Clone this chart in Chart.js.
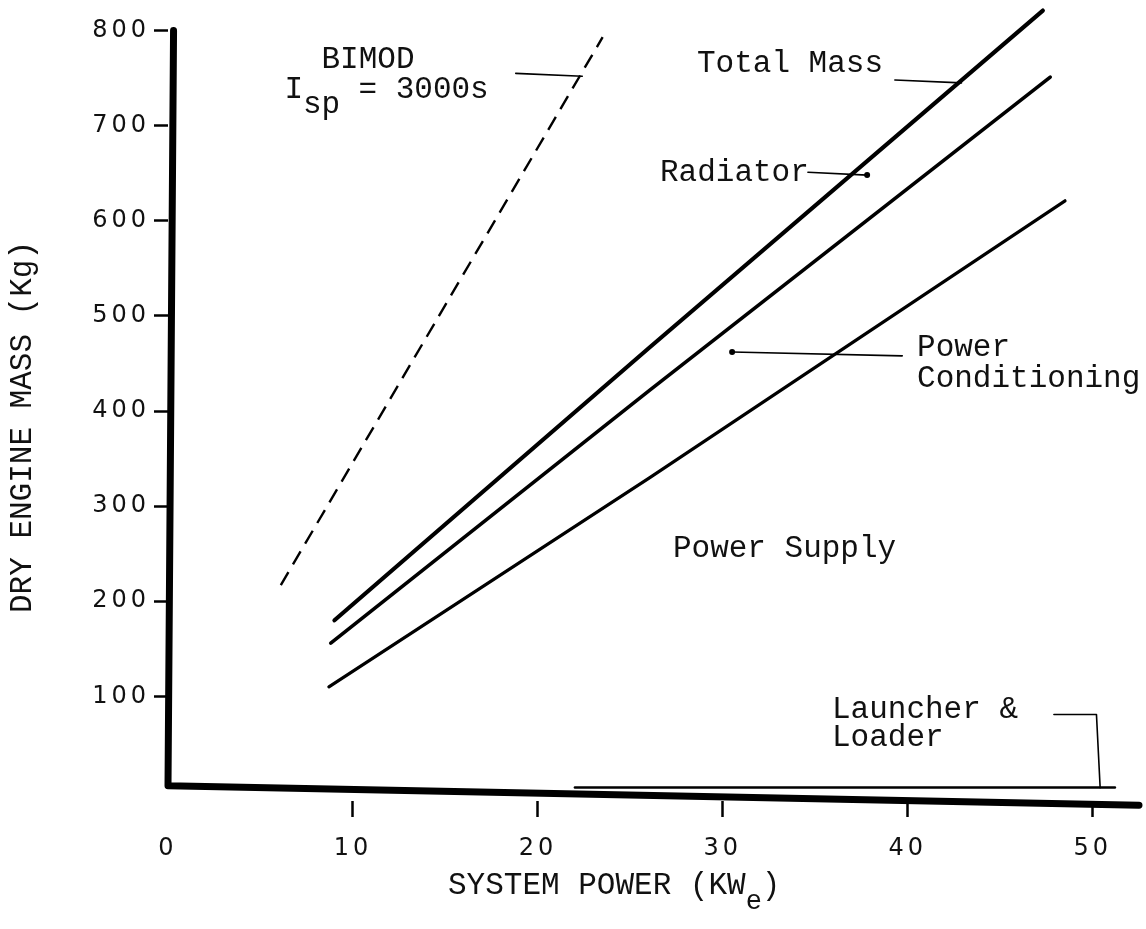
<!DOCTYPE html>
<html>
<head>
<meta charset="utf-8">
<script src="https://cdn.jsdelivr.net/npm/chart.js@4"></script>
<style>
html,body{margin:0;padding:0;background:#fff;}
#wrap{width:1146px;height:929px;}
</style>
</head>
<body>
<div id="wrap"><canvas id="c" width="1146" height="929"></canvas></div>
<script>
// values (system power kWe, dry engine mass kg)
var bimodPower = [6.1, 23.5];
var bimodMass = [217, 793];
var totalPower = [9.0, 26.05, 47.3];
var totalMass = [180, 467, 821];
var radiatorPower = [8.8, 26.05, 47.7];
var radiatorMass = [156, 422, 751];
var condPower = [8.7, 26.05, 48.5];
var condMass = [110, 330, 621];
var launcherPower = [22, 51.2];
var launcherMass = [4.2, 4.2];

var xTickValues = [0, 10, 20, 30, 40, 50];
var yTickValues = [100, 200, 300, 400, 500, 600, 700, 800];

var TYPE = '"Liberation Mono", "Courier New", monospace';
var INK = '#111';

function pts(xs, ys) {
    return xs.map(function (x, i) { return {x: x, y: ys[i]}; });
}

// text labels in data units (left edge, baseline)
var notes = [
    {t: 'BIMOD', x: 8.3, y: 761},
    {t: 'I', x: 6.3, y: 729},
    {t: 'sp', x: 7.3, y: 713},
    {t: '= 3000s', x: 10.3, y: 729},
    {t: 'Total Mass', x: 28.6, y: 756},
    {t: 'Radiator', x: 26.6, y: 642},
    {t: 'Power', x: 40.5, y: 458},
    {t: 'Conditioning', x: 40.5, y: 425},
    {t: 'Power Supply', x: 27.3, y: 246},
    {t: 'Launcher &', x: 35.9, y: 77},
    {t: 'Loader', x: 35.9, y: 48}
];
// leader lines (data units), dot = small blob at an end
var leaders = [
    {p: [[18.8, 755], [22.4, 752]]},
    {p: [[39.3, 748], [42.9, 745]]},
    {p: [[34.6, 651], [37.8, 648]], dot: 1},
    {p: [[30.5, 462], [39.7, 458]], dot: 0},
    {p: [[47.9, 81], [50.2, 81], [50.4, 4]]}
];

var drawing = {
    id: 'drawing',
    beforeDraw: function (chart) {
        chart.ctx.letterSpacing = '4px';
    },
    afterDraw: function (chart) {
        var ctx = chart.ctx, xs = chart.scales.x, ys = chart.scales.y;
        function X(v) { return xs.getPixelForValue(v); }
        function Y(v) { return ys.getPixelForValue(v); }
        ctx.save();
        ctx.letterSpacing = '0px';
        ctx.strokeStyle = '#000';
        ctx.lineCap = 'round';
        ctx.lineJoin = 'round';

        // heavy axes
        ctx.lineWidth = 7;
        ctx.beginPath();
        ctx.moveTo(X(0.3), Y(800));
        ctx.lineTo(X(0), Y(6));
        ctx.lineTo(X(52.5), Y(-14.5));
        ctx.stroke();

        // leader lines
        ctx.lineWidth = 1.6;
        leaders.forEach(function (l) {
            ctx.beginPath();
            l.p.forEach(function (q, i) {
                if (i === 0) ctx.moveTo(X(q[0]), Y(q[1]));
                else ctx.lineTo(X(q[0]), Y(q[1]));
            });
            ctx.stroke();
            if (l.dot !== undefined) {
                var d = l.p[l.dot];
                ctx.beginPath();
                ctx.arc(X(d[0]), Y(d[1]), 3, 0, Math.PI * 2);
                ctx.fillStyle = '#000';
                ctx.fill();
            }
        });

        // notes
        ctx.fillStyle = INK;
        ctx.font = '31px ' + TYPE;
        ctx.textAlign = 'left';
        ctx.textBaseline = 'alphabetic';
        notes.forEach(function (n) {
            ctx.fillText(n.t, X(n.x), Y(n.y));
        });

        // x axis title with subscript
        var bx = 448, by = chart.chartArea.bottom + 93;
        var main = 'SYSTEM POWER (KW';
        ctx.fillText(main, bx, by);
        var w = ctx.measureText(main).width;
        ctx.font = '27px ' + TYPE;
        ctx.fillText('e', bx + w, by + 15);
        var we = ctx.measureText('e').width;
        ctx.font = '31px ' + TYPE;
        ctx.fillText(')', bx + w + we, by);

        // y axis title
        ctx.translate(23, 427);
        ctx.rotate(-Math.PI / 2);
        ctx.textAlign = 'center';
        ctx.textBaseline = 'middle';
        ctx.fillText('DRY ENGINE MASS (Kg)', 0, 0);
        ctx.restore();
    }
};

var lineStyle = {
    borderColor: '#000',
    pointRadius: 0,
    fill: false,
    tension: 0,
    borderCapStyle: 'round',
    borderJoinStyle: 'round'
};

new Chart(document.getElementById('c'), {
    type: 'line',
    data: {
        datasets: [
            Object.assign({label: 'BIMOD Isp = 3000s', data: pts(bimodPower, bimodMass), borderWidth: 2.4, borderDash: [15, 9]}, lineStyle, {borderCapStyle: 'butt'}),
            Object.assign({label: 'Total Mass', data: pts(totalPower, totalMass), borderWidth: 4.2}, lineStyle),
            Object.assign({label: 'Radiator', data: pts(radiatorPower, radiatorMass), borderWidth: 3.6}, lineStyle),
            Object.assign({label: 'Power Conditioning', data: pts(condPower, condMass), borderWidth: 3.2}, lineStyle),
            Object.assign({label: 'Launcher & Loader', data: pts(launcherPower, launcherMass), borderWidth: 2.4}, lineStyle)
        ]
    },
    options: {
        responsive: false,
        animation: false,
        layout: {padding: {top: 2, right: 7, left: 0, bottom: 0}},
        plugins: {legend: {display: false}, tooltip: {enabled: false}},
        scales: {
            x: {
                type: 'linear',
                min: 0,
                max: 52.5,
                border: {display: false},
                grid: {
                    drawOnChartArea: false,
                    tickLength: 16,
                    tickWidth: 2.5,
                    tickColor: function (c) { return c.tick && c.tick.value === 0 ? 'rgba(0,0,0,0)' : '#000'; }
                },
                afterBuildTicks: function (s) {
                    s.ticks = xTickValues.map(function (v) { return {value: v}; });
                },
                afterFit: function (s) {
                    s.height = 128;
                    s.paddingLeft = 0;
                    s.paddingRight = 0;
                },
                ticks: {
                    color: INK,
                    padding: 17,
                    maxRotation: 0,
                    font: {family: '"DejaVu Sans", sans-serif', size: 24}
                }
            },
            y: {
                type: 'linear',
                min: -10,
                max: 830,
                border: {display: false},
                grid: {
                    drawOnChartArea: false,
                    tickLength: 14,
                    tickWidth: 2.5,
                    tickColor: '#000'
                },
                afterBuildTicks: function (s) {
                    s.ticks = yTickValues.map(function (v) { return {value: v}; });
                },
                afterFit: function (s) {
                    s.width = 168;
                    s.paddingTop = 0;
                    s.paddingBottom = 0;
                },
                ticks: {
                    color: INK,
                    padding: 4,
                    font: {family: '"DejaVu Sans", sans-serif', size: 24}
                }
            }
        }
    },
    plugins: [drawing]
});
</script>
</body>
</html>
